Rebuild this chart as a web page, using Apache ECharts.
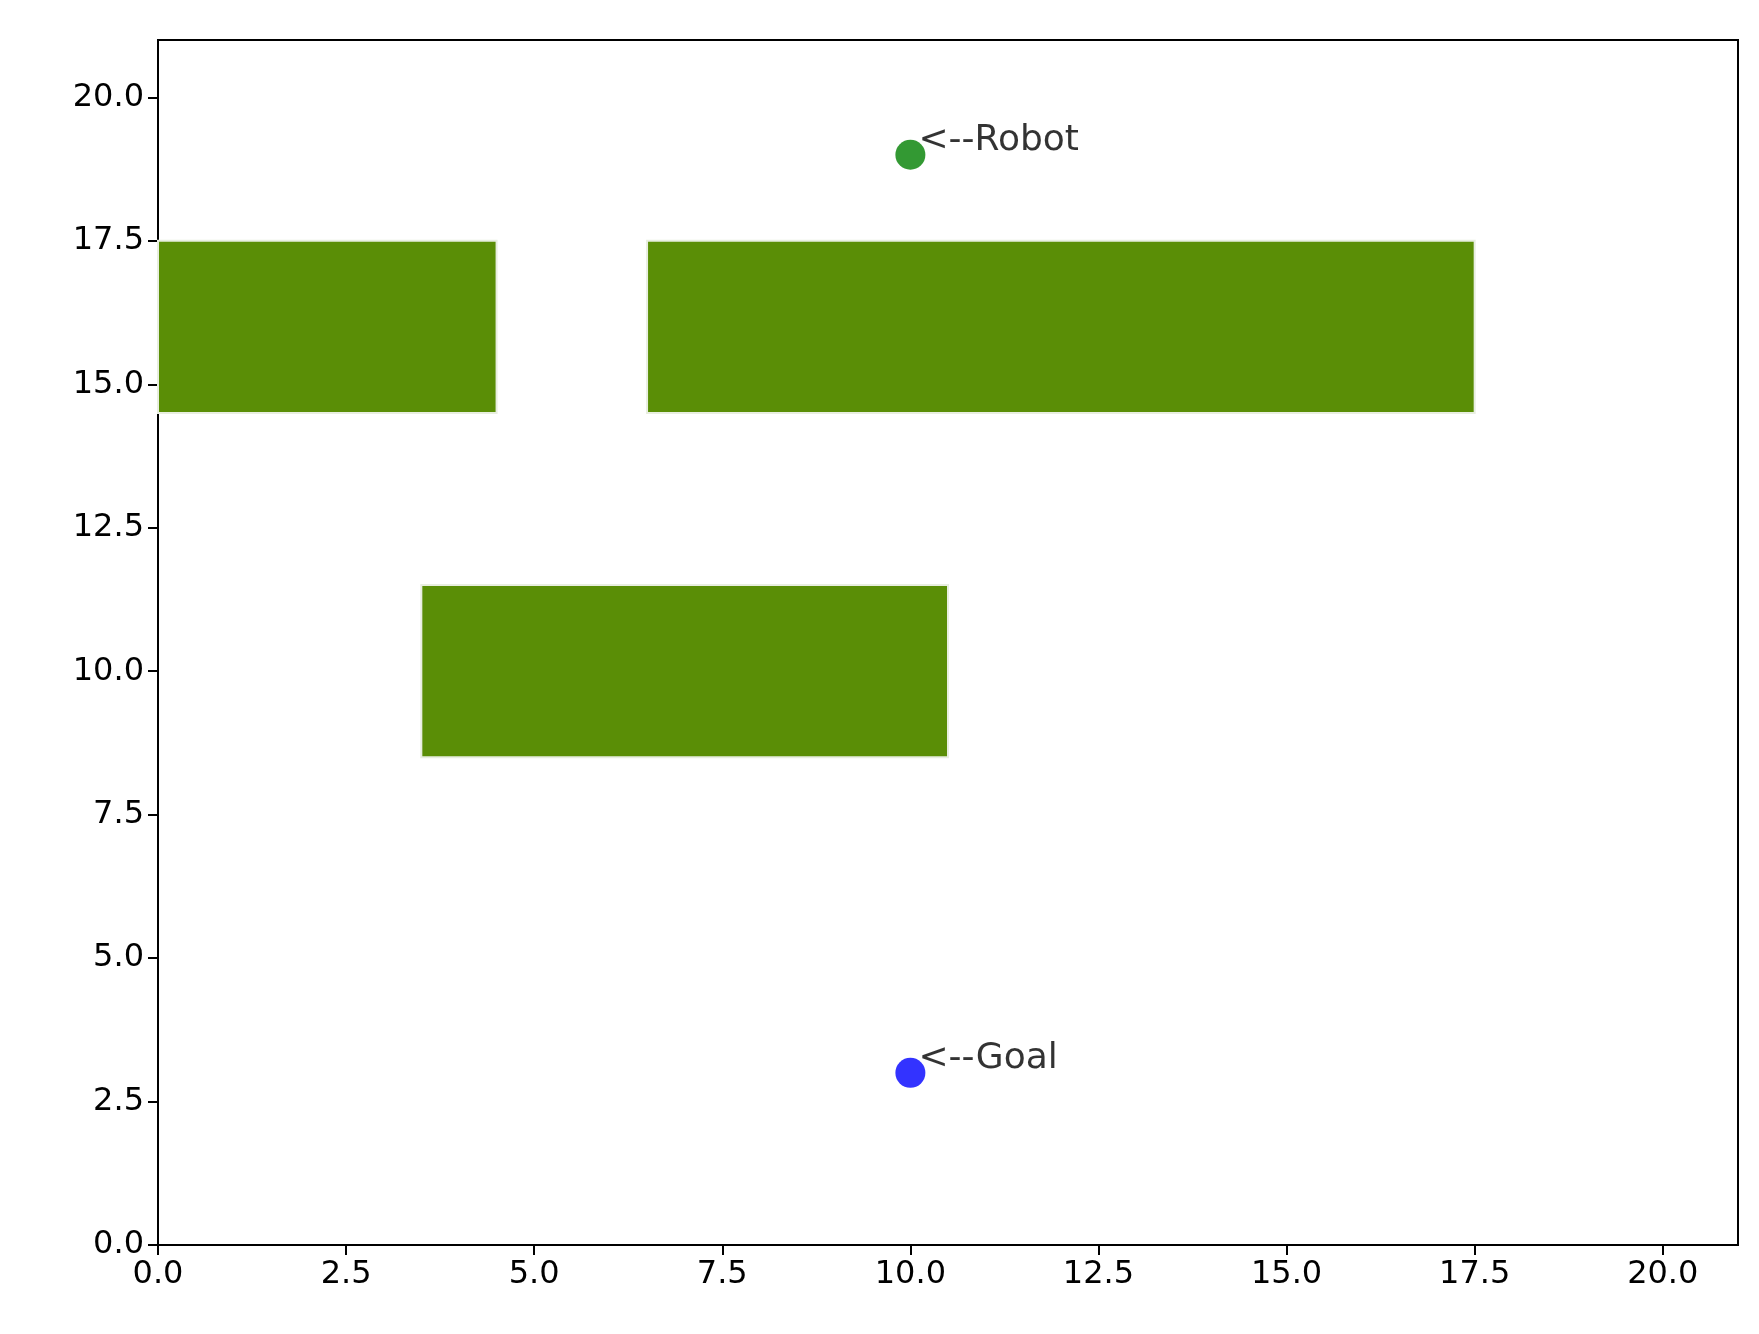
<!DOCTYPE html>
<html>
<head>
<meta charset="utf-8">
<script src="https://cdn.jsdelivr.net/npm/echarts@6/dist/echarts.min.js"></script>
<style>html,body{margin:0;padding:0;background:#fff}#chart{width:1759px;height:1334px}</style>
</head>
<body>
<div id="chart"></div>
<script>
// obstacles: [x0, x1, y0, y1]
var obstacles = [
  [0, 4.5, 14.5, 17.5],
  [6.5, 17.5, 14.5, 17.5],
  [3.5, 10.5, 8.5, 11.5]
]
var robot = [10, 19]
var goal = [10, 3]
var pointNames = ['<--Robot', '<--Goal']

var chart = echarts.init(document.getElementById('chart'))

function axisOpt () {
  return {
    type: 'value',
    min: 0,
    max: 21,
    interval: 2.5,
    splitLine: { show: false },
    axisLine: { onZero: false, lineStyle: { color: '#000', width: 2 } },
    axisTick: { length: 10, lineStyle: { color: '#000', width: 2 } },
    axisLabel: {
      color: '#000',
      fontSize: 32,
      fontFamily: 'DejaVu Sans',
      margin: 14,
      formatter: function (v) { return v.toFixed(1) },
      showMaxLabel: false
    }
  }
}

chart.setOption({
  animation: false,
  grid: { left: 158, right: 21, top: 40, bottom: 89, show: true, borderColor: '#000', borderWidth: 2 },
  xAxis: axisOpt(),
  yAxis: axisOpt(),
  series: [{
    type: 'custom',
    data: obstacles,
    renderItem: function (params, api) {
      var p0 = api.coord([api.value(0), api.value(3)])
      var p1 = api.coord([api.value(1), api.value(2)])
      return {
        type: 'rect',
        shape: { x: p0[0], y: p0[1], width: p1[0] - p0[0], height: p1[1] - p0[1] },
        style: { fill: '#5a8e06', stroke: '#e8eee0', lineWidth: 2 }
      }
    }
  }, {
    type: 'scatter',
    symbolSize: 30,
    data: [
      { value: robot, name: pointNames[0], itemStyle: { color: '#008000' } },
      { value: goal, name: pointNames[1], itemStyle: { color: '#0000ff' } }
    ],
    label: {
      show: true,
      position: 'right',
      offset: [-12, -14],
      formatter: '{b}',
      color: '#000',
      fontSize: 36,
      fontFamily: 'DejaVu Sans'
    }
  }]
})
</script>
</body>
</html>
